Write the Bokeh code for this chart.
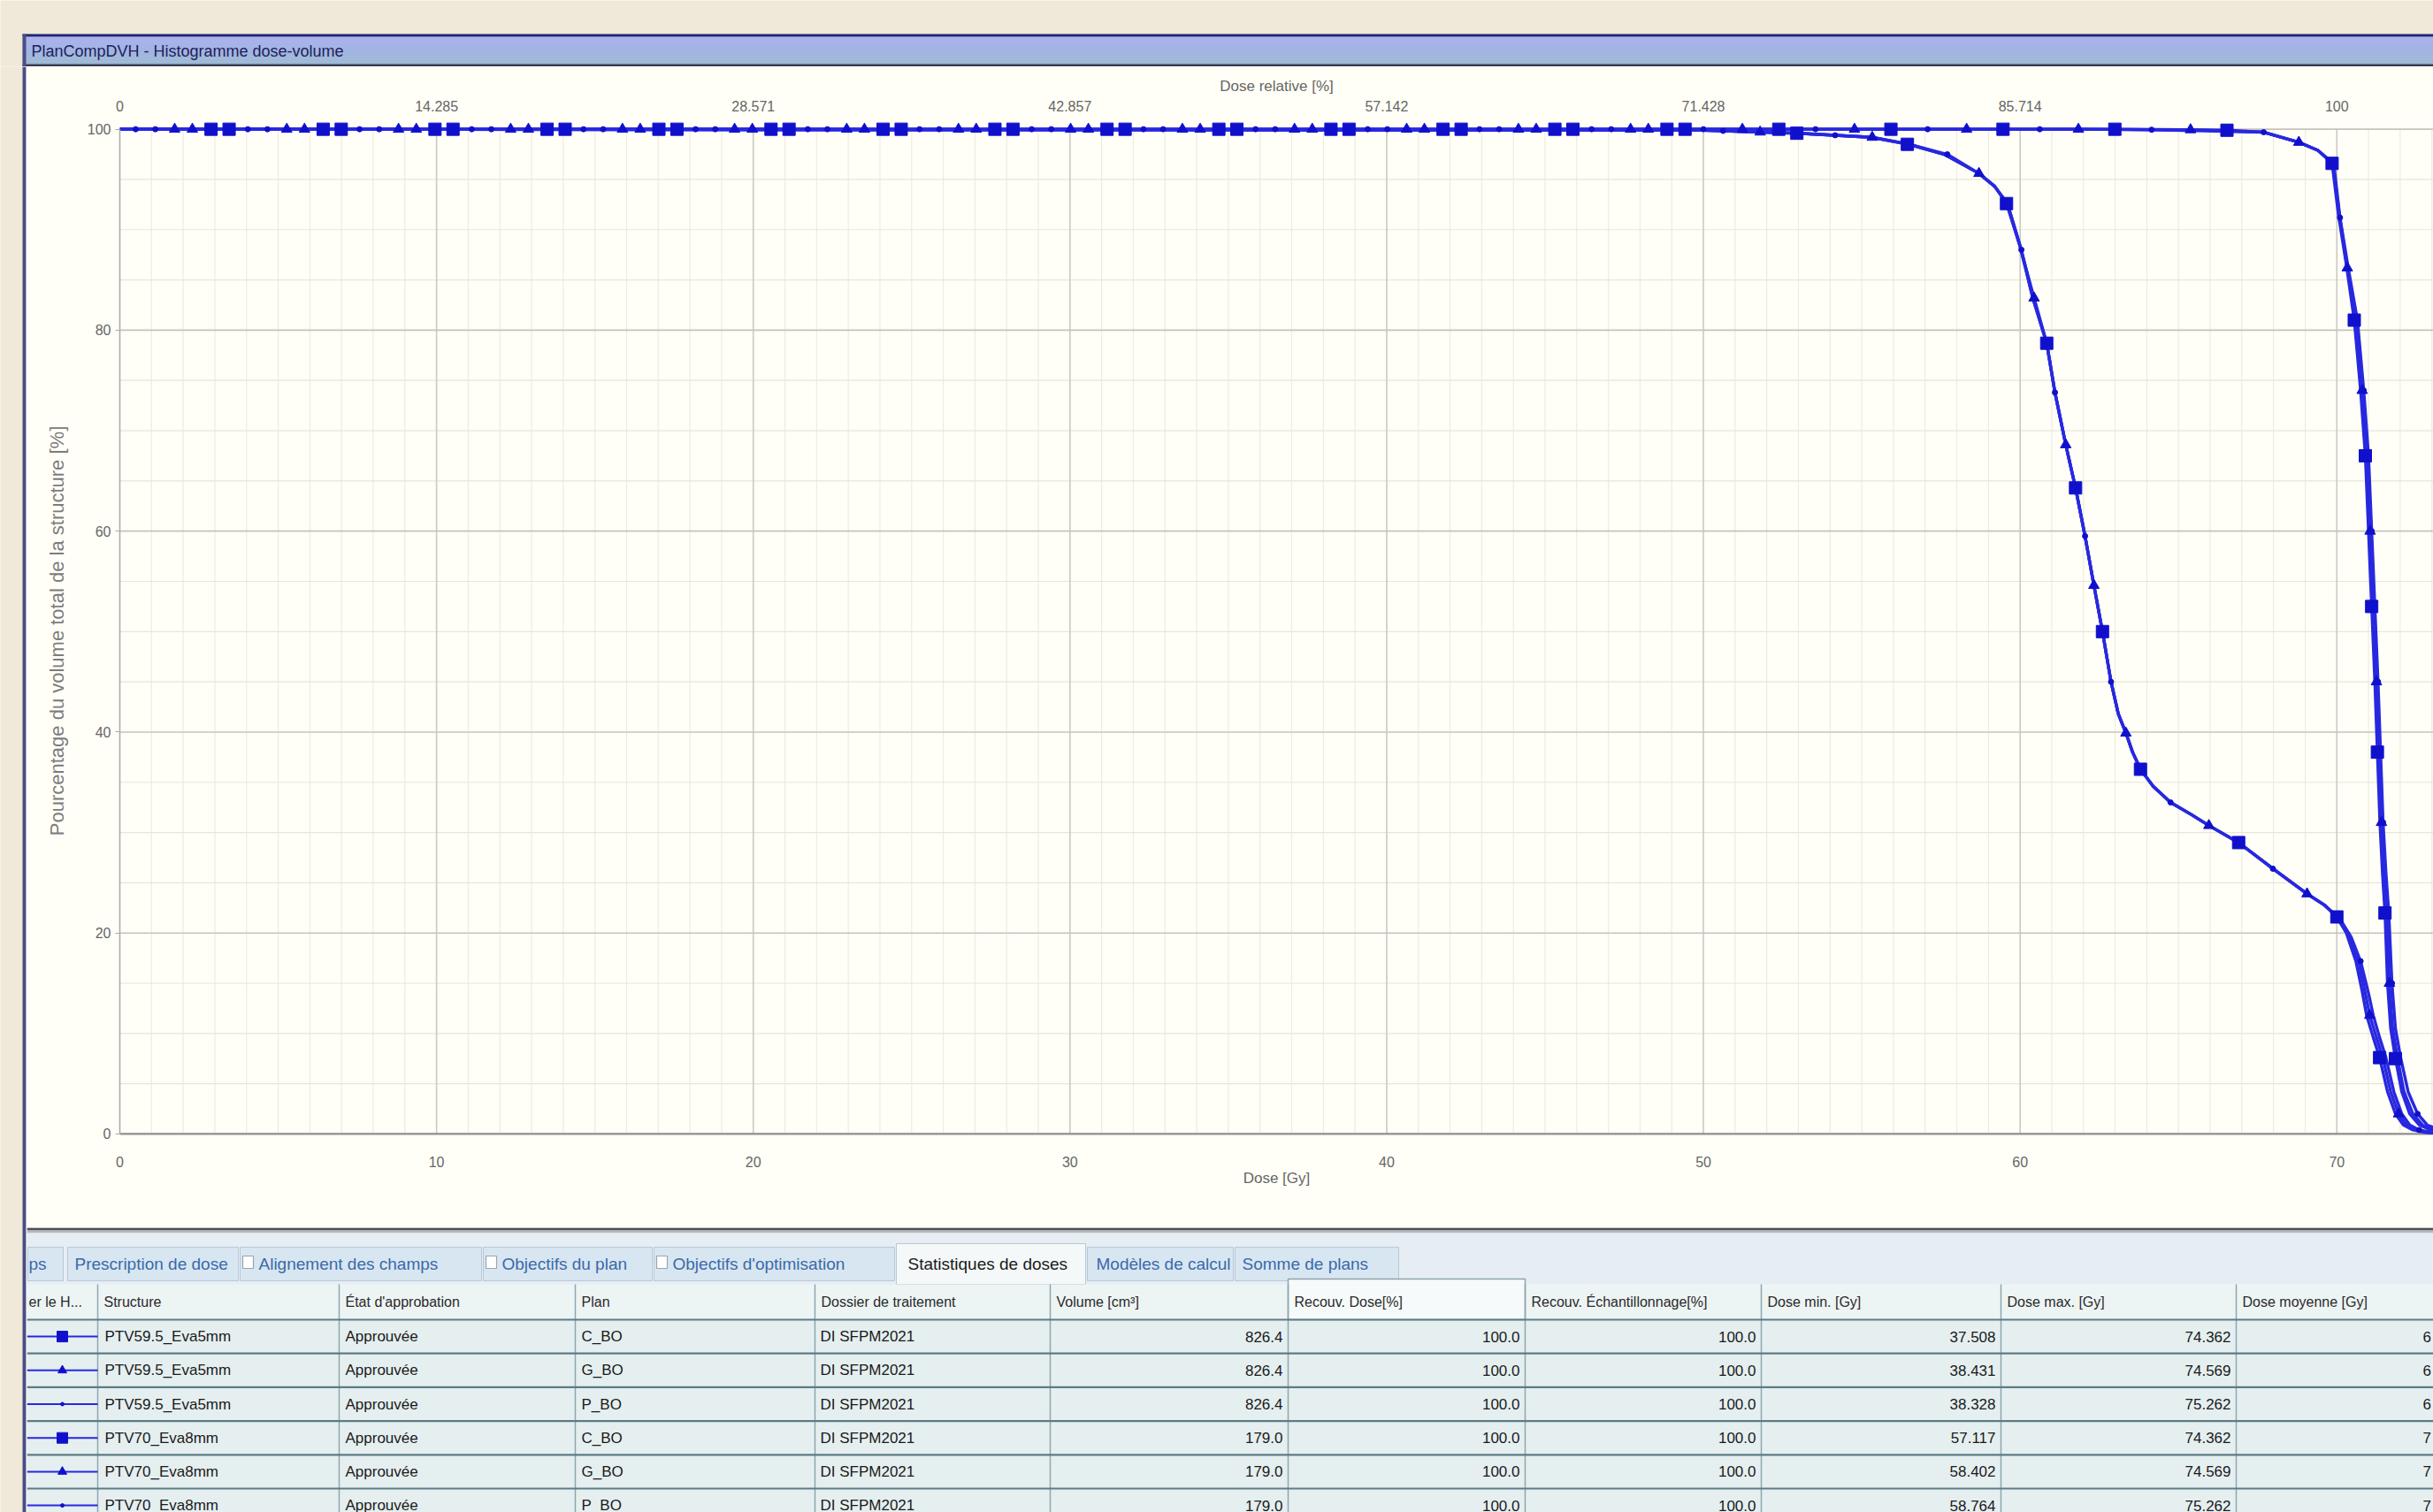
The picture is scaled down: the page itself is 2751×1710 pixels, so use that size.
import numpy as np
from bokeh.plotting import figure
from bokeh.models import Range1d, LinearAxis, FixedTicker
from bokeh.layouts import column, row
from bokeh.embed import file_html
from bokeh.resources import INLINE
from bokeh.core.properties import value

FONT = "Liberation Sans"

# ---------------- chart data ----------------
DOSE_TICKS = [0, 10, 20, 30, 40, 50, 60, 70]
REL_DOSE_LABELS = ["0", "14.285", "28.571", "42.857", "57.142", "71.428", "85.714", "100"]
VOL_TICKS = [0, 20, 40, 60, 80, 100]

# PTV59.5_Eva5mm curves (dose Gy, volume %)
PTV59_C_DOSE = [0, 50, 53, 55.3, 56.44, 57.6, 58.7, 59.2, 59.57, 60.0, 60.4, 60.84, 61.1, 61.44, 61.75,
                62.05, 62.33, 62.6, 62.87, 63.1, 63.34, 63.55, 63.8, 64.2, 64.75, 65.4, 65.96, 66.9, 67.98,
                69.06, 69.6, 70.0, 70.3, 70.6, 70.8, 70.94, 71.15, 71.35, 71.6, 71.85, 72.1, 72.4, 72.8, 73.4, 74.36]
PTV59_C_VOL = [100, 99.9, 99.6, 99.2, 98.5, 97.5, 95.6, 94.3, 92.6, 88.3, 83.2, 78.7, 73.8, 68.6, 64.3,
               59.5, 54.6, 50.0, 45.0, 41.8, 39.9, 38.0, 36.3, 34.6, 33.0, 31.8, 30.7, 29.0, 26.4,
               23.9, 22.8, 21.6, 20.0, 17.2, 14.2, 11.8, 9.6, 7.6, 4.2, 2.0, 0.9, 0.4, 0.15, 0.05, 0]
PTV59_G_DOSE = [0, 50, 53, 55.33, 56.5, 57.6, 58.7, 59.2, 59.6, 60.0, 60.44, 60.84, 61.1, 61.44, 61.75,
                62.05, 62.33, 62.6, 62.87, 63.1, 63.34, 63.55, 63.8, 64.2, 64.75, 65.4, 65.96, 66.9, 67.98,
                69.06, 69.6, 70.05, 70.4, 70.7, 70.9, 71.04, 71.25, 71.45, 71.7, 71.95, 72.2, 72.5, 72.9, 73.5, 74.57]
PTV59_G_VOL = [100, 99.9, 99.6, 99.2, 98.5, 97.5, 95.6, 94.3, 92.6, 88.3, 83.2, 78.7, 73.8, 68.6, 64.3,
               59.5, 54.6, 50.0, 45.0, 41.8, 39.9, 38.0, 36.3, 34.6, 33.0, 31.8, 30.7, 29.0, 26.4,
               23.9, 22.8, 21.5, 19.8, 17.0, 14.0, 11.8, 9.6, 7.6, 4.2, 2.0, 0.9, 0.4, 0.15, 0.05, 0]
PTV59_P_DOSE = [0, 50, 53, 55.3, 56.5, 57.7, 58.7, 59.2, 59.6, 60.04, 60.4, 60.84, 61.1, 61.44, 61.75,
                62.05, 62.33, 62.6, 62.87, 63.1, 63.34, 63.55, 63.8, 64.2, 64.75, 65.4, 65.96, 66.9, 67.98,
                69.06, 69.6, 70.1, 70.45, 70.75, 71.0, 71.15, 71.35, 71.55, 71.8, 72.05, 72.3, 72.6, 73.0, 73.8, 75.26]
PTV59_P_VOL = [100, 99.9, 99.6, 99.2, 98.5, 97.5, 95.6, 94.3, 92.6, 88.0, 83.2, 78.7, 73.8, 68.6, 64.3,
               59.5, 54.6, 50.0, 45.0, 41.8, 39.9, 38.0, 36.3, 34.6, 33.0, 31.8, 30.7, 29.0, 26.4,
               23.9, 22.8, 21.4, 19.6, 17.2, 14.0, 11.8, 9.6, 7.6, 4.2, 2.0, 0.9, 0.4, 0.15, 0.05, 0]

# PTV70_Eva8mm curves
PTV70_C_DOSE = [0, 62, 65, 66.53, 67.7, 68.8, 69.4, 69.85, 70.05, 70.3, 70.55, 70.75, 70.9, 71.0, 71.1,
                71.2, 71.28, 71.36, 71.44, 71.52, 71.6, 71.7, 71.85, 72.05, 72.3, 72.6, 73.0, 73.6, 74.36]
PTV70_C_VOL = [100, 100, 99.95, 99.9, 99.7, 98.7, 97.9, 96.6, 91.5, 86.5, 81.0, 74.0, 67.5, 60.0, 52.5,
               45.0, 38.0, 31.0, 26.0, 22.0, 15.0, 10.5, 7.5, 4.2, 2.0, 0.9, 0.35, 0.1, 0]
PTV70_G_DOSE = [0, 62, 65.38, 67.7, 68.8, 69.4, 69.87, 70.08, 70.33, 70.6, 70.8, 70.95, 71.05, 71.15,
                71.25, 71.33, 71.41, 71.49, 71.57, 71.66, 71.76, 71.92, 72.12, 72.4, 72.7, 73.1, 73.7, 74.57]
PTV70_G_VOL = [100, 100, 99.95, 99.7, 98.7, 97.9, 96.6, 91.5, 86.2, 81.0, 74.0, 67.5, 60.0, 52.5,
               45.0, 38.0, 31.0, 26.0, 22.0, 15.0, 10.5, 7.5, 4.2, 2.0, 0.9, 0.35, 0.1, 0]
PTV70_P_DOSE = [0, 62, 64.15, 67.69, 68.8, 69.4, 69.9, 70.1, 70.36, 70.65, 70.85, 71.0, 71.1, 71.2,
                71.3, 71.38, 71.46, 71.55, 71.64, 71.74, 71.85, 72.02, 72.25, 72.55, 72.85, 73.3, 74.0, 75.26]
PTV70_P_VOL = [100, 100, 99.95, 99.7, 98.7, 97.9, 96.6, 91.2, 86.2, 81.0, 74.0, 67.5, 60.0, 52.5,
               45.0, 38.0, 31.0, 26.0, 22.0, 15.0, 10.5, 7.5, 4.2, 2.0, 0.9, 0.35, 0.1, 0]

# marker positions
MK59_C_DOSE = [3.45, 6.99, 10.52, 14.06, 17.59, 21.13, 24.67, 28.20, 31.74, 35.27, 38.81, 42.35, 45.88, 49.42,
               52.95, 56.44, 59.57, 60.84, 61.75, 62.6, 63.8, 66.9, 70.0, 71.35]
MK59_C_VOL = [100, 100, 100, 100, 100, 100, 100, 100, 100, 100, 100, 100, 100, 100,
              99.6, 98.5, 92.6, 78.7, 64.3, 50.0, 36.3, 29.0, 21.6, 7.6]
MK59_G_DOSE = [2.29, 5.83, 9.36, 12.90, 16.43, 19.97, 23.51, 27.04, 30.58, 34.11, 37.65, 41.19, 44.72, 48.26,
               51.79, 55.33, 58.7, 60.44, 61.44, 62.33, 63.34, 65.96, 69.06, 71.04, 71.95]
MK59_G_VOL = [100, 100, 100, 100, 100, 100, 100, 100, 100, 100, 100, 100, 100, 100,
              99.72, 99.2, 95.6, 83.2, 68.6, 54.6, 39.9, 30.7, 23.9, 11.8, 2.0]
MK59_P_DOSE = [1.12, 4.66, 8.19, 11.73, 15.26, 18.80, 22.34, 25.87, 29.41, 32.94, 36.48, 40.02, 43.55, 47.09,
               50.62, 54.16, 57.7, 60.04, 61.1, 62.05, 62.87, 64.75, 67.98, 70.75, 72.6]
MK59_P_VOL = [100, 100, 100, 100, 100, 100, 100, 100, 100, 100, 100, 100, 100, 100,
              99.84, 99.4, 97.5, 88.0, 73.8, 59.5, 45.0, 33.0, 26.4, 17.2, 0.4]
MK70_C_DOSE = [2.88, 6.42, 9.95, 13.49, 17.02, 20.56, 24.10, 27.63, 31.17, 34.70, 38.24, 41.78, 45.31, 48.85,
               52.38, 55.92, 59.46, 62.99, 66.53, 69.85, 70.55, 70.9, 71.1, 71.28, 71.52, 71.85]
MK70_C_VOL = [100, 100, 100, 100, 100, 100, 100, 100, 100, 100, 100, 100, 100, 100,
              100, 100, 100, 100, 99.9, 96.6, 81.0, 67.5, 52.5, 38.0, 22.0, 7.5]
MK70_G_DOSE = [1.73, 5.27, 8.80, 12.34, 15.87, 19.41, 22.95, 26.48, 30.02, 33.55, 37.09, 40.63, 44.16, 47.70,
               51.23, 54.77, 58.31, 61.84, 65.38, 68.8, 70.33, 70.8, 71.05, 71.25, 71.41, 71.66]
MK70_G_VOL = [100, 100, 100, 100, 100, 100, 100, 100, 100, 100, 100, 100, 100, 100,
              100, 100, 100, 100, 99.95, 98.7, 86.2, 74.0, 60.0, 45.0, 31.0, 15.0]
MK70_P_DOSE = [0.50, 4.04, 7.57, 11.11, 14.64, 18.18, 21.72, 25.25, 28.79, 32.32, 35.86, 39.40, 42.93, 46.47,
               50.00, 53.54, 57.08, 60.62, 64.15, 67.69, 70.1, 70.85, 71.1, 71.3, 71.46, 71.74, 72.55]
MK70_P_VOL = [100, 100, 100, 100, 100, 100, 100, 100, 100, 100, 100, 100, 100, 100,
              100, 100, 100, 100, 99.95, 99.7, 91.2, 74.0, 60.0, 45.0, 31.0, 15.0, 2.0]

# ---------------- table data ----------------
TAB_LABELS = ["ps", "Prescription de dose", "Alignement des champs", "Objectifs du plan",
              "Objectifs d'optimisation", "Statistiques de doses", "Modèles de calcul", "Somme de plans"]
HEADERS = ["er le H...", "Structure", "État d'approbation", "Plan", "Dossier de traitement", "Volume [cm³]",
           "Recouv. Dose[%]", "Recouv. Échantillonnage[%]", "Dose min. [Gy]", "Dose max. [Gy]", "Dose moyenne [Gy]"]
ROW_MARKERS = ["square", "triangle", "circle", "square", "triangle", "circle"]
STRUCTURES = ["PTV59.5_Eva5mm", "PTV59.5_Eva5mm", "PTV59.5_Eva5mm", "PTV70_Eva8mm", "PTV70_Eva8mm", "PTV70_Eva8mm"]
APPROVAL = ["Approuvée", "Approuvée", "Approuvée", "Approuvée", "Approuvée", "Approuvée"]
PLANS = ["C_BO", "G_BO", "P_BO", "C_BO", "G_BO", "P_BO"]
DOSSIER = ["DI SFPM2021", "DI SFPM2021", "DI SFPM2021", "DI SFPM2021", "DI SFPM2021", "DI SFPM2021"]
VOLUME = ["826.4", "826.4", "826.4", "179.0", "179.0", "179.0"]
RECOUV_DOSE = ["100.0", "100.0", "100.0", "100.0", "100.0", "100.0"]
RECOUV_ECH = ["100.0", "100.0", "100.0", "100.0", "100.0", "100.0"]
DOSE_MIN = ["37.508", "38.431", "38.328", "57.117", "58.402", "58.764"]
DOSE_MAX = ["74.362", "74.569", "75.262", "74.362", "74.569", "75.262"]
DOSE_MEAN_VISIBLE = ["6", "6", "6", "7", "7", "7"]   # only first digit visible at the window edge

# ---------------- styling ----------------
BEIGE = "#F0E8D8"
PLOT_BG = "#FFFFF7"
LINE_BLUE = "#2828E0"
MARK_BLUE = "#1010CC"
AX_TXT = "#666666"
MARKER_SIZE = {"square": 14, "triangle": 12, "circle": 6}


def pixfig(w, h, bg):
    f = figure(width=w, height=h, x_range=Range1d(0, w), y_range=Range1d(h, 0),
               x_axis_location=None, y_axis_location=None, toolbar_location=None,
               output_backend="svg", min_border=0)
    f.grid.visible = False
    f.outline_line_color = None
    f.background_fill_color = bg
    f.border_fill_color = bg
    f.frame_align = False
    return f


# ---------- window title bar ----------
TOTAL_W = 2751
TOP_H = 75
top = pixfig(TOTAL_W, TOP_H, BEIGE)
c1 = np.array([170, 178, 240])
c2 = np.array([156, 184, 214])
nb = 10
for i in range(nb):
    c = c1 + (c2 - c1) * i / (nb - 1)
    col = "#%02x%02x%02x" % tuple(int(v) for v in c)
    top.quad(left=25, right=TOTAL_W, top=41 + i * 3.1, bottom=41 + (i + 1) * 3.1 + 0.3,
             fill_color=col, line_color=None)
top.quad(left=25, right=TOTAL_W, top=38, bottom=41, fill_color="#1E2872", line_color=None)
top.quad(left=25, right=TOTAL_W, top=72, bottom=75, fill_color="#3A3C4C", line_color=None)
top.quad(left=25, right=29, top=38, bottom=75, fill_color="#4A4E86", line_color=None)
top.text(x=[35], y=[57], text=["PlanCompDVH - Histogramme dose-volume"], text_font=value(FONT),
         text_font_size="18px", text_color="#20205A", text_baseline="middle", text_align="left")

# ---------- left window edge ----------
LEFT_W = 30
BODY_H = 1710 - TOP_H
left = pixfig(LEFT_W, BODY_H, BEIGE)
left.quad(left=25, right=29, top=0, bottom=BODY_H, fill_color="#4A4E86", line_color=None)
left.quad(left=29, right=30, top=0, bottom=BODY_H, fill_color="#C8CCE0", line_color=None)

# ---------- DVH chart ----------
CW = TOTAL_W - LEFT_W
X_MAX = 73.05
p = figure(width=CW, height=1313, x_range=Range1d(0, X_MAX), y_range=Range1d(-1.5, 101.64),
           output_backend="svg", toolbar_location=None, x_axis_location=None, y_axis_location=None,
           min_border_left=105, min_border_right=0, min_border_top=52, min_border_bottom=89)
p.background_fill_color = PLOT_BG
p.border_fill_color = PLOT_BG
p.outline_line_color = None
p.grid.visible = False
p.frame_align = False

# grid
minor_x = [d for d in range(1, 74) if d % 10 != 0]
major_x = [d for d in DOSE_TICKS if d > 0]
minor_y = [v for v in range(5, 100, 5) if v % 20 != 0]
major_y = [v for v in VOL_TICKS if v > 0]
p.segment(x0=minor_x, y0=0, x1=minor_x, y1=100, line_color="#ECECE2", line_width=1.2)
p.segment(x0=0, y0=minor_y, x1=X_MAX, y1=minor_y, line_color="#E6E6DC", line_width=1.2)
p.segment(x0=major_x, y0=0, x1=major_x, y1=100, line_color="#CACAC2", line_width=1.6)
p.segment(x0=0, y0=major_y, x1=X_MAX, y1=major_y, line_color="#C4C4BC", line_width=1.6)
p.segment(x0=[0], y0=[0], x1=[X_MAX], y1=[0], line_color="#8E8E8E", line_width=2.2)

series = [
    (PTV59_C_DOSE, PTV59_C_VOL, MK59_C_DOSE, MK59_C_VOL, "square"),
    (PTV59_G_DOSE, PTV59_G_VOL, MK59_G_DOSE, MK59_G_VOL, "triangle"),
    (PTV59_P_DOSE, PTV59_P_VOL, MK59_P_DOSE, MK59_P_VOL, "circle"),
    (PTV70_C_DOSE, PTV70_C_VOL, MK70_C_DOSE, MK70_C_VOL, "square"),
    (PTV70_G_DOSE, PTV70_G_VOL, MK70_G_DOSE, MK70_G_VOL, "triangle"),
    (PTV70_P_DOSE, PTV70_P_VOL, MK70_P_DOSE, MK70_P_VOL, "circle"),
]
for d, v, md, mv, mk in series:
    p.line(d, v, line_color=LINE_BLUE, line_width=3.4)
for d, v, md, mv, mk in series:
    p.scatter(md, mv, marker=mk, size=MARKER_SIZE[mk], fill_color=MARK_BLUE, line_color=MARK_BLUE)

yax = LinearAxis(ticker=FixedTicker(ticks=VOL_TICKS), bounds=(0, 100),
                 axis_label="Pourcentage du volume total de la structure [%]")
p.add_layout(yax, "left")
xax = LinearAxis(ticker=FixedTicker(ticks=DOSE_TICKS), axis_label="Dose [Gy]")
p.add_layout(xax, "below")
tax = LinearAxis(ticker=FixedTicker(ticks=DOSE_TICKS), axis_label="Dose relative [%]",
                 major_label_overrides={t: l for t, l in zip(DOSE_TICKS, REL_DOSE_LABELS)})
p.add_layout(tax, "above")

for ax in (yax, xax, tax):
    ax.major_label_text_font = FONT
    ax.major_label_text_font_size = "16px"
    ax.major_label_text_color = AX_TXT
    ax.axis_label_text_font = FONT
    ax.axis_label_text_font_size = "17px"
    ax.axis_label_text_font_style = "normal"
    ax.axis_label_text_color = AX_TXT
    ax.minor_tick_line_color = None
yax.axis_line_color = "#A8A8A8"
yax.axis_line_width = 1.5
yax.major_tick_line_color = "#A8A8A8"
yax.major_tick_out = 5
yax.major_tick_in = 0
yax.major_label_standoff = 5
yax.axis_label_standoff = 19
yax.axis_label_text_font_size = "22px"
yax.axis_label_text_color = "#7C7C7C"
xax.axis_line_color = None
xax.major_tick_line_color = None
xax.major_label_standoff = 2
xax.axis_label_standoff = 0
tax.axis_line_color = None
tax.major_tick_line_color = None
tax.major_label_standoff = -4
tax.axis_label_standoff = 4

# ---------- tabs + statistics table ----------
TW, TH = CW, BODY_H - 1313
t = pixfig(TW, TH, "#E5EFF0")
t.quad(left=0, right=TW, top=0, bottom=3, fill_color="#4E4E56", line_color=None)
t.quad(left=0, right=TW, top=3, bottom=6, fill_color="#B4B8BE", line_color=None)
t.quad(left=0, right=TW, top=6, bottom=64, fill_color="#E6EEF4", line_color=None)

TAB_LEFT = [0, 45, 240, 515, 708, 982, 1198, 1365]
TAB_RIGHT = [42, 240, 515, 708, 982, 1198, 1365, 1552]
TAB_TEXT_X = [2, 54, 262, 537, 730, 996, 1209, 1374]
TAB_CHECK = [False, False, True, True, True, False, False, False]
ACTIVE = 5
for i, lab in enumerate(TAB_LABELS):
    bg = "#F4F8F8" if i == ACTIVE else "#D8E6F2"
    t.quad(left=TAB_LEFT[i] + 1, right=TAB_RIGHT[i] - 1, top=18 if i == ACTIVE else 22,
           bottom=64 if i == ACTIVE else 60, fill_color=bg, line_color="#B8C8D8", line_width=1)
    if TAB_CHECK[i]:
        t.quad(left=TAB_LEFT[i] + 4, right=TAB_LEFT[i] + 16, top=32, bottom=46,
               fill_color="#FFFFFF", line_color="#9AA6B0", line_width=1.2)
t.text(x=TAB_TEXT_X, y=[41] * len(TAB_LABELS), text=TAB_LABELS, text_font=value(FONT),
       text_font_size="19px", text_baseline="middle", text_align="left",
       text_color=["#1A1A1A" if i == ACTIVE else "#3A6AA8" for i in range(len(TAB_LABELS))])

COL_SEPS = [80, 353, 620, 891, 1157, 1426, 1694, 1961, 2232, 2498]
HEADER_Y = 84
ROW_TOP = 104
ROW_H = 38.2
n_rows = len(STRUCTURES)
row_y = [ROW_TOP + ROW_H * (i + 0.5) for i in range(n_rows)]

# header band and sorted-column box
t.quad(left=0, right=TW, top=64, bottom=ROW_TOP, fill_color="#EDF4F4", line_color=None)
t.quad(left=COL_SEPS[5], right=COL_SEPS[6], top=58, bottom=ROW_TOP, fill_color="#F6FAFA",
       line_color="#90A4AC", line_width=1.5)
# column separators
t.segment(x0=COL_SEPS, y0=64, x1=COL_SEPS, y1=TH, line_color="#8FA6AE", line_width=1.5)
# row separators
sep_y = [ROW_TOP + ROW_H * i for i in range(n_rows)]
t.segment(x0=0, y0=sep_y, x1=TW, y1=sep_y, line_color="#5C7C84", line_width=2.2)

header_x = [2] + [s + 7 for s in COL_SEPS]
t.text(x=header_x, y=[HEADER_Y] * len(HEADERS), text=HEADERS, text_font=value(FONT),
       text_font_size="16px", text_baseline="middle", text_align="left", text_color="#2A2A2A")

# legend column: line + marker
t.segment(x0=0, y0=row_y, x1=COL_SEPS[0], y1=row_y, line_color=LINE_BLUE, line_width=2)
for i, mk in enumerate(ROW_MARKERS):
    t.scatter([40], [row_y[i]], marker=mk, size=MARKER_SIZE[mk] - 2, fill_color=MARK_BLUE,
              line_color=MARK_BLUE)

left_cols = [STRUCTURES, APPROVAL, PLANS, DOSSIER]
left_x = [COL_SEPS[0] + 8, COL_SEPS[1] + 7, COL_SEPS[2] + 7, COL_SEPS[3] + 6]
for vals, xx in zip(left_cols, left_x):
    t.text(x=[xx] * n_rows, y=row_y, text=vals, text_font=value(FONT), text_font_size="17px",
           text_baseline="middle", text_align="left", text_color="#1A1A1A")
right_cols = [VOLUME, RECOUV_DOSE, RECOUV_ECH, DOSE_MIN, DOSE_MAX]
right_x = [COL_SEPS[5] - 6, COL_SEPS[6] - 6, COL_SEPS[7] - 6, COL_SEPS[8] - 6, COL_SEPS[9] - 6]
for vals, xx in zip(right_cols, right_x):
    t.text(x=[xx] * n_rows, y=row_y, text=vals, text_font=value(FONT), text_font_size="17px",
           text_baseline="middle", text_align="right", text_color="#1A1A1A")
t.text(x=[TW - 12] * n_rows, y=row_y, text=DOSE_MEAN_VISIBLE, text_font=value(FONT),
       text_font_size="17px", text_baseline="middle", text_align="left", text_color="#1A1A1A")

layout = column(top, row(left, column(p, t, spacing=0), spacing=0), spacing=0)

open("out.html", "w").write(file_html(layout, INLINE))
